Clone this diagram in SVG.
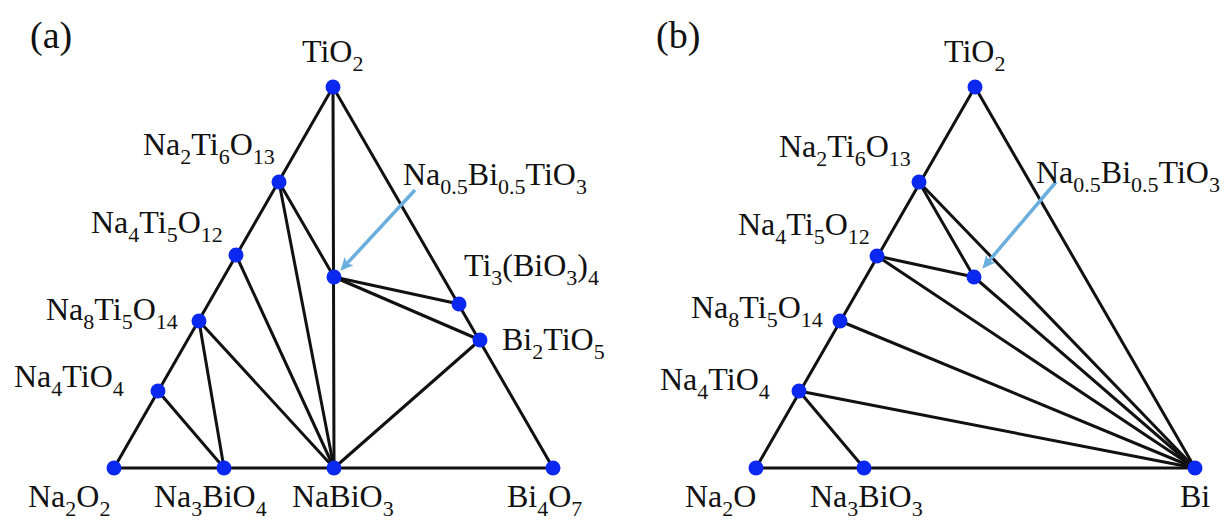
<svg xmlns="http://www.w3.org/2000/svg" width="1227" height="520" viewBox="0 0 1227 520">
<style>
.bg{fill:#ffffff}
.e{stroke:#111;stroke-width:3;stroke-linecap:round;fill:none}
.n{fill:#0a28f0}
.t{font-family:"Liberation Serif","Times New Roman",serif;font-size:32px;fill:#111}
.p{font-family:"Liberation Serif","Times New Roman",serif;font-size:38px;fill:#111}
.s{font-size:22px}
.ar{stroke:#6aaede;stroke-width:3.5;fill:none}
</style>
<defs>
<marker id="ah" markerUnits="userSpaceOnUse" markerWidth="14" markerHeight="12" refX="3" refY="6" orient="auto" viewBox="0 0 14 12">
<path d="M0,0 L13,6 L0,12 L3,6 Z" fill="#6aaede"/>
</marker>
</defs>
<rect class="bg" x="0" y="0" width="1227" height="520"/>
<g id="connectors">
<!-- (a) -->
<line class="e" x1="333" y1="87" x2="114" y2="468"/>
<line class="e" x1="333" y1="87" x2="553" y2="468"/>
<line class="e" x1="114" y1="468" x2="553" y2="468"/>
<line class="e" x1="333" y1="87" x2="334" y2="468"/>
<line class="e" x1="279" y1="182" x2="334" y2="277"/>
<line class="e" x1="279" y1="182" x2="334" y2="468"/>
<line class="e" x1="236" y1="255" x2="334" y2="468"/>
<line class="e" x1="199" y1="321" x2="334" y2="468"/>
<line class="e" x1="199" y1="321" x2="224" y2="468"/>
<line class="e" x1="158" y1="391" x2="224" y2="468"/>
<line class="e" x1="334" y1="277" x2="459" y2="304"/>
<line class="e" x1="334" y1="277" x2="480" y2="340"/>
<line class="e" x1="480" y1="340" x2="334" y2="468"/>
<!-- (b) -->
<line class="e" x1="975" y1="87" x2="756" y2="468"/>
<line class="e" x1="975" y1="87" x2="1195" y2="468"/>
<line class="e" x1="756" y1="468" x2="1195" y2="468"/>
<line class="e" x1="919" y1="182" x2="974" y2="277"/>
<line class="e" x1="919" y1="182" x2="1195" y2="468"/>
<line class="e" x1="877" y1="256" x2="974" y2="277"/>
<line class="e" x1="877" y1="256" x2="1195" y2="468"/>
<line class="e" x1="974" y1="277" x2="1195" y2="468"/>
<line class="e" x1="840" y1="321" x2="1195" y2="468"/>
<line class="e" x1="799" y1="391" x2="1195" y2="468"/>
<line class="e" x1="799" y1="391" x2="864" y2="468"/>
<!-- arrows -->
<line class="ar" x1="415" y1="190" x2="347.1" y2="263.4" marker-end="url(#ah)"/>
<line class="ar" x1="1056" y1="182" x2="988.8" y2="261.1" marker-end="url(#ah)"/>
</g>
<g id="panel-labels">
<text class="p" x="30" y="48">(a)</text>
<text class="p" x="656" y="48">(b)</text>
</g>
<!-- (a) nodes -->
<g id="a-TiO2"><circle class="n" cx="333" cy="87" r="7.5"/><text class="t" x="302" y="62">TiO<tspan class="s" dy="9">2</tspan></text></g>
<g id="a-Na2Ti6O13"><circle class="n" cx="279" cy="182" r="7.5"/><text class="t" x="143" y="155">Na<tspan class="s" dy="9">2</tspan><tspan dy="-9">Ti</tspan><tspan class="s" dy="9">6</tspan><tspan dy="-9">O</tspan><tspan class="s" dy="9">13</tspan></text></g>
<g id="a-Na4Ti5O12"><circle class="n" cx="236" cy="255" r="7.5"/><text class="t" x="91" y="233">Na<tspan class="s" dy="9">4</tspan><tspan dy="-9">Ti</tspan><tspan class="s" dy="9">5</tspan><tspan dy="-9">O</tspan><tspan class="s" dy="9">12</tspan></text></g>
<g id="a-Na8Ti5O14"><circle class="n" cx="199" cy="321" r="7.5"/><text class="t" x="46" y="320">Na<tspan class="s" dy="9">8</tspan><tspan dy="-9">Ti</tspan><tspan class="s" dy="9">5</tspan><tspan dy="-9">O</tspan><tspan class="s" dy="9">14</tspan></text></g>
<g id="a-Na4TiO4"><circle class="n" cx="158" cy="391" r="7.5"/><text class="t" x="14" y="387">Na<tspan class="s" dy="9">4</tspan><tspan dy="-9">TiO</tspan><tspan class="s" dy="9">4</tspan></text></g>
<g id="a-Na2O2"><circle class="n" cx="114" cy="468" r="7.5"/><text class="t" x="28" y="507">Na<tspan class="s" dy="9">2</tspan><tspan dy="-9">O</tspan><tspan class="s" dy="9">2</tspan></text></g>
<g id="a-Na3BiO4"><circle class="n" cx="224" cy="468" r="7.5"/><text class="t" x="154" y="507">Na<tspan class="s" dy="9">3</tspan><tspan dy="-9">BiO</tspan><tspan class="s" dy="9">4</tspan></text></g>
<g id="a-NaBiO3"><circle class="n" cx="334" cy="468" r="7.5"/><text class="t" x="292" y="507">NaBiO<tspan class="s" dy="9">3</tspan></text></g>
<g id="a-Bi4O7"><circle class="n" cx="553" cy="468" r="7.5"/><text class="t" x="507" y="507">Bi<tspan class="s" dy="9">4</tspan><tspan dy="-9">O</tspan><tspan class="s" dy="9">7</tspan></text></g>
<g id="a-NBT"><circle class="n" cx="334" cy="277" r="7.5"/><text class="t" x="403" y="185">Na<tspan class="s" dy="9">0.5</tspan><tspan dy="-9">Bi</tspan><tspan class="s" dy="9">0.5</tspan><tspan dy="-9">TiO</tspan><tspan class="s" dy="9">3</tspan></text></g>
<g id="a-Ti3BiO34"><circle class="n" cx="459" cy="304" r="7.5"/><text class="t" x="464" y="276">Ti<tspan class="s" dy="9">3</tspan><tspan dy="-9">(BiO</tspan><tspan class="s" dy="9">3</tspan><tspan dy="-9">)</tspan><tspan class="s" dy="9">4</tspan></text></g>
<g id="a-Bi2TiO5"><circle class="n" cx="480" cy="340" r="7.5"/><text class="t" x="502" y="350">Bi<tspan class="s" dy="9">2</tspan><tspan dy="-9">TiO</tspan><tspan class="s" dy="9">5</tspan></text></g>
<!-- (b) nodes -->
<g id="b-TiO2"><circle class="n" cx="975" cy="87" r="7.5"/><text class="t" x="944" y="62">TiO<tspan class="s" dy="9">2</tspan></text></g>
<g id="b-Na2Ti6O13"><circle class="n" cx="919" cy="182" r="7.5"/><text class="t" x="779" y="157">Na<tspan class="s" dy="9">2</tspan><tspan dy="-9">Ti</tspan><tspan class="s" dy="9">6</tspan><tspan dy="-9">O</tspan><tspan class="s" dy="9">13</tspan></text></g>
<g id="b-NBT"><circle class="n" cx="974" cy="277" r="7.5"/><text class="t" x="1036" y="183">Na<tspan class="s" dy="9">0.5</tspan><tspan dy="-9">Bi</tspan><tspan class="s" dy="9">0.5</tspan><tspan dy="-9">TiO</tspan><tspan class="s" dy="9">3</tspan></text></g>
<g id="b-Na4Ti5O12"><circle class="n" cx="877" cy="256" r="7.5"/><text class="t" x="738" y="235">Na<tspan class="s" dy="9">4</tspan><tspan dy="-9">Ti</tspan><tspan class="s" dy="9">5</tspan><tspan dy="-9">O</tspan><tspan class="s" dy="9">12</tspan></text></g>
<g id="b-Na8Ti5O14"><circle class="n" cx="840" cy="321" r="7.5"/><text class="t" x="691" y="318">Na<tspan class="s" dy="9">8</tspan><tspan dy="-9">Ti</tspan><tspan class="s" dy="9">5</tspan><tspan dy="-9">O</tspan><tspan class="s" dy="9">14</tspan></text></g>
<g id="b-Na4TiO4"><circle class="n" cx="799" cy="391" r="7.5"/><text class="t" x="660" y="390">Na<tspan class="s" dy="9">4</tspan><tspan dy="-9">TiO</tspan><tspan class="s" dy="9">4</tspan></text></g>
<g id="b-Na2O"><circle class="n" cx="756" cy="468" r="7.5"/><text class="t" x="685" y="507">Na<tspan class="s" dy="9">2</tspan><tspan dy="-9">O</tspan></text></g>
<g id="b-Na3BiO3"><circle class="n" cx="864" cy="468" r="7.5"/><text class="t" x="810" y="507">Na<tspan class="s" dy="9">3</tspan><tspan dy="-9">BiO</tspan><tspan class="s" dy="9">3</tspan></text></g>
<g id="b-Bi"><circle class="n" cx="1195" cy="468" r="7.5"/><text class="t" x="1180" y="507">Bi</text></g>
</svg>
